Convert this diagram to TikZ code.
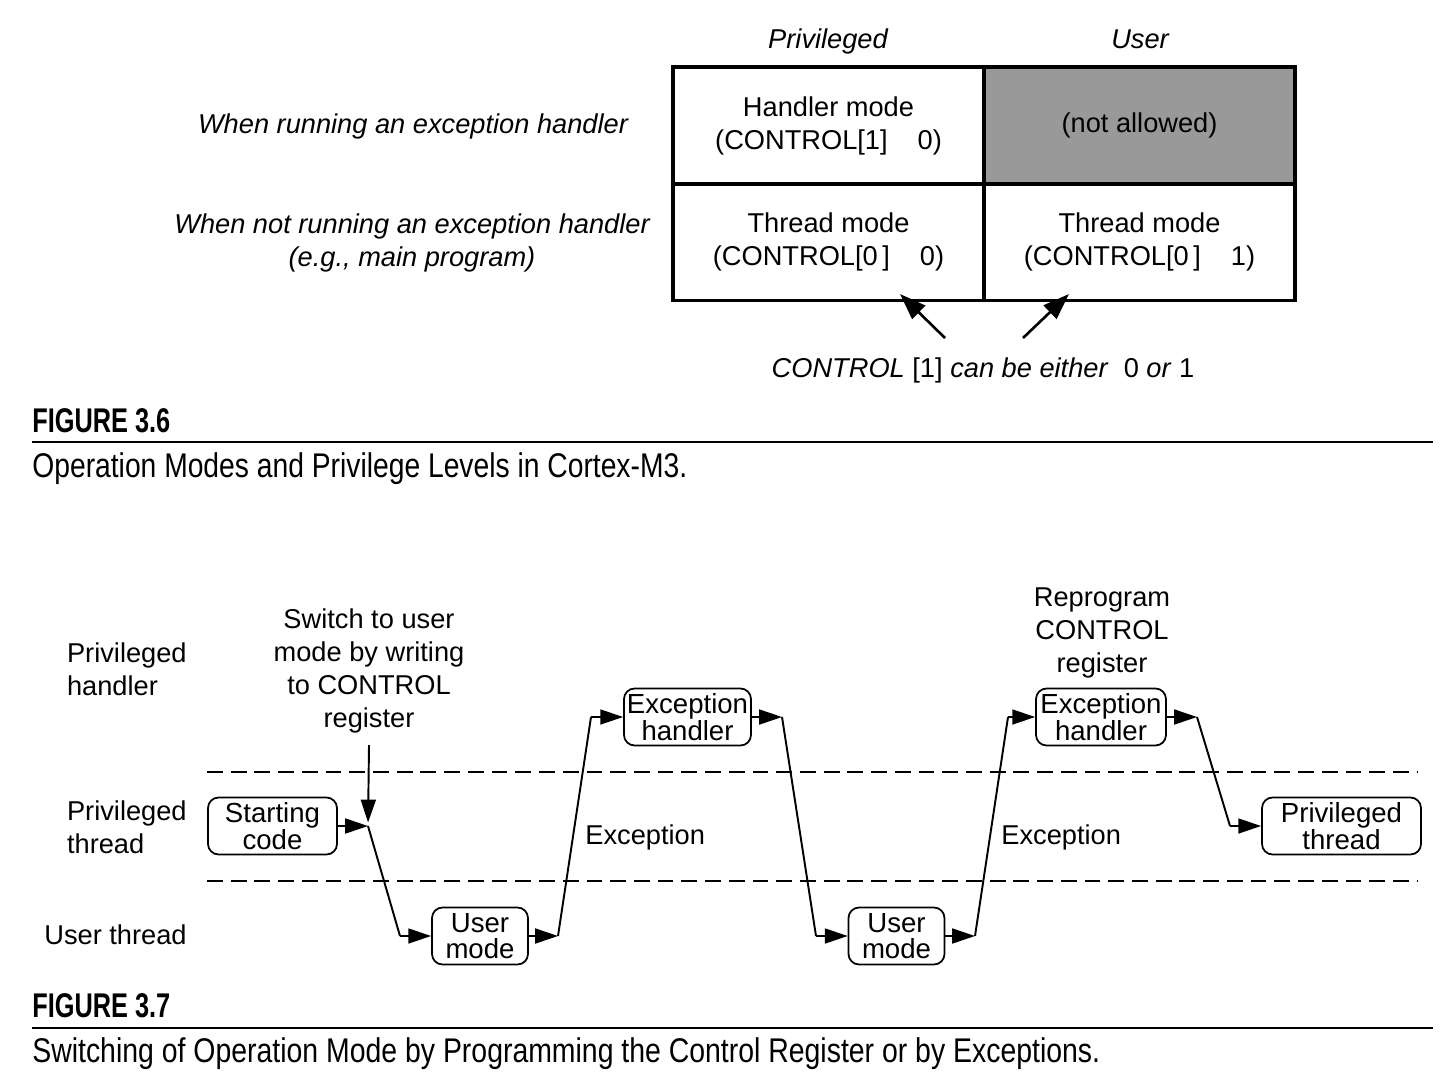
\documentclass[tikz,border=0pt]{standalone}
\usepackage{fontspec}
\setmainfont{Liberation Sans}
\usetikzlibrary{arrows.meta}
\tikzstyle{cell}=[rectangle, draw, line width=1.8pt, minimum width=6.22cm, minimum height=2.34cm, align=center, inner sep=0pt]
\tikzstyle{modebox}=[rectangle, draw, rounded corners=6pt, line width=1pt, align=center, inner sep=1pt, minimum height=1.14cm, font=\fontsize{15.7}{14.6}\selectfont]
\tikzstyle{note}=[align=center, inner sep=0pt]
\tikzstyle{wire}=[line width=1.1pt]
\tikzstyle{tip}=[wire, -{Triangle[length=13pt,width=8.5pt]}]
\tikzstyle{bigtip}=[line width=1.5pt, -{Triangle[length=15pt,width=10.5pt]}]
\tikzstyle{level}=[line width=1.3pt, dash pattern=on 9pt off 4.5pt]
\tikzstyle{caption}=[anchor=west, inner sep=0pt, font=\fontsize{19.5}{21}\selectfont]
\newcommand{\modebox}{\node[modebox]}
\newcommand{\squeeze}[2]{\resizebox{#1}{\height}{#2}}

\begin{document}
\begin{tikzpicture}[x=0.02cm, y=-0.02cm, font=\fontsize{15.5}{18.8}\selectfont]
	\useasboundingbox (0,0) rectangle (1442,1074);

	%% Figure 3.6: the four cells of the table, one node per cell.
	\node[cell] (h0) at (828.5,125.5) {Handler mode\\(CONTROL[1]\hspace{1.1em}0)};
	\node[cell, fill=black!40] (h1) at (1139.5,125.5) {(not allowed)};
	\node[cell] (t0) at (828.5,242) {Thread mode\\(CONTROL[0\,]\hspace{1.1em}0)};
	\node[cell] (t1) at (1139.5,242) {Thread mode\\(CONTROL[0\,]\hspace{1.1em}1)};
	\node[note, anchor=base] (priv) at (828,49) {\itshape Privileged};
	\node[note, anchor=base] (user) at (1140,49) {\itshape User};
	\node[note] (exc) at (413,126) {\itshape When running an exception handler};
	\node[note] (noexc) at (412,243) {\itshape When not running an exception handler\\\itshape (e.g., main program)};
	\node[note] (ctl) at (983,370) {\textit{CONTROL} [1] \textit{can be either}\ \ 0 \textit{or} 1};
	\coordinate (a0) at (945,338);
	\coordinate (a1) at (1023,338);
	\coordinate (b0) at (900,294);
	\coordinate (b1) at (1069,294);
	\draw[bigtip] (a0) -- (b0);
	\draw[bigtip] (a1) -- (b1);

	\node[caption] (fig6) at (32,421) {\squeeze{2.76cm}{\bfseries FIGURE 3.6}};
	\draw[line width=0.8pt] (32,442) -- (1433,442);
	\node[caption] (cap6) at (32,469) {\squeeze{13.1cm}{Operation Modes and Privilege Levels in Cortex-M3.}};

	%% Figure 3.7: levels, modes and the switches between them.
	\draw[level] (207,772) -- (1418,772);
	\draw[level] (207,881) -- (1418,881);
	\node[note, anchor=east, align=left] (lph) at (187,669) {Privileged\\handler};
	\node[note, anchor=east, align=left] (lpt) at (187,827) {Privileged\\thread};
	\node[note, anchor=east, align=left] (lut) at (187,935) {User thread};
	\node[note] (switch) at (369,671) {Switch to user\\mode by writing\\to CONTROL\\register};
	\node[note] (reprog) at (1102,633) {Reprogram\\CONTROL\\register};
	\node[note, anchor=west] (ex1) at (585,837) {Exception};
	\node[note, anchor=west] (ex2) at (1001,837) {Exception};

	\modebox (start) at (272.5,826) [minimum width=2.58cm] {Starting\\code};
	\modebox (um1) at (480,936) [minimum width=1.92cm] {User\\mode};
	\modebox (eh1) at (687.5,717) [minimum width=2.54cm] {Exception\\handler};
	\modebox (um2) at (896.5,936) [minimum width=1.92cm] {User\\mode};
	\modebox (eh2) at (1101,717) [minimum width=2.6cm] {Exception\\handler};
	\modebox (pt) at (1341.5,826) [minimum width=3.18cm] {Privileged\\thread};

	\coordinate (sw) at (369,745);
	\coordinate (c1) at (368,826);
	\coordinate (c2) at (400,936);
	\coordinate (c3) at (558,936);
	\coordinate (c4) at (591,717);
	\coordinate (c5) at (782,717);
	\coordinate (c6) at (816,936);
	\coordinate (c7) at (975,936);
	\coordinate (c8) at (1008,717);
	\coordinate (c9) at (1197,717);
	\coordinate (c10) at (1230,826);
	\path
		(sw) edge[tip, shorten >=2pt] (c1)
		(start) edge[tip] (c1)
		(c1) edge[wire] (c2)
		(c2) edge[tip] (um1)
		(um1) edge[tip] (c3)
		(c3) edge[wire] (c4)
		(c4) edge[tip] (eh1)
		(eh1) edge[tip] (c5)
		(c5) edge[wire] (c6)
		(c6) edge[tip] (um2)
		(um2) edge[tip] (c7)
		(c7) edge[wire] (c8)
		(c8) edge[tip] (eh2)
		(eh2) edge[tip] (c9)
		(c9) edge[wire] (c10)
		(c10) edge[tip] (pt)
	;

	\node[caption] (fig7) at (32,1006) {\squeeze{2.76cm}{\bfseries FIGURE 3.7}};
	\draw[line width=0.8pt] (32,1028) -- (1433,1028);
	\node[caption] (cap7) at (32,1054) {\squeeze{21.36cm}{Switching of Operation Mode by Programming the Control Register or by Exceptions.}};
\end{tikzpicture}
\end{document}
